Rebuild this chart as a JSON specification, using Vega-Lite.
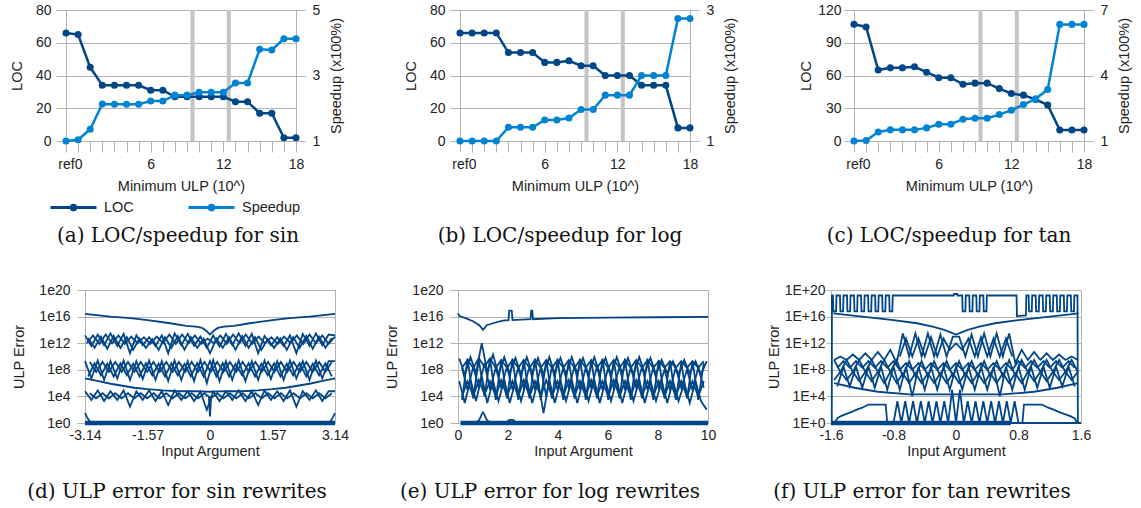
{
"$schema": "https://vega.github.io/schema/vega-lite/v6.json",
"background": "white",
"padding": {"left": 8, "top": 2, "right": 5, "bottom": 5},
"datasets": {
"ta": [{"i":0,"loc":66,"sp":1},{"i":1,"loc":65,"sp":1.04},{"i":2,"loc":45,"sp":1.36},{"i":3,"loc":34,"sp":2.13},{"i":4,"loc":34,"sp":2.12},{"i":5,"loc":34,"sp":2.12},{"i":6,"loc":34,"sp":2.12},{"i":7,"loc":31,"sp":2.22},{"i":8,"loc":31,"sp":2.22},{"i":9,"loc":27,"sp":2.4},{"i":10,"loc":27,"sp":2.4},{"i":11,"loc":27,"sp":2.49},{"i":12,"loc":27,"sp":2.49},{"i":13,"loc":27,"sp":2.49},{"i":14,"loc":24,"sp":2.77},{"i":15,"loc":24,"sp":2.77},{"i":16,"loc":17,"sp":3.8},{"i":17,"loc":17,"sp":3.78},{"i":18,"loc":2,"sp":4.12},{"i":19,"loc":2,"sp":4.12}],
"tb": [{"i":0,"loc":66,"sp":1},{"i":1,"loc":66,"sp":1},{"i":2,"loc":66,"sp":1},{"i":3,"loc":66,"sp":1},{"i":4,"loc":54,"sp":1.21},{"i":5,"loc":54,"sp":1.21},{"i":6,"loc":54,"sp":1.21},{"i":7,"loc":48,"sp":1.32},{"i":8,"loc":48,"sp":1.32},{"i":9,"loc":49,"sp":1.35},{"i":10,"loc":46,"sp":1.48},{"i":11,"loc":46,"sp":1.48},{"i":12,"loc":40,"sp":1.7},{"i":13,"loc":40,"sp":1.7},{"i":14,"loc":40,"sp":1.7},{"i":15,"loc":34,"sp":2},{"i":16,"loc":34,"sp":2},{"i":17,"loc":34,"sp":2},{"i":18,"loc":8,"sp":2.87},{"i":19,"loc":8,"sp":2.87}],
"tc": [{"i":0,"loc":107,"sp":1},{"i":1,"loc":104.5,"sp":1.02},{"i":2,"loc":65,"sp":1.41},{"i":3,"loc":67,"sp":1.51},{"i":4,"loc":67,"sp":1.51},{"i":5,"loc":68,"sp":1.51},{"i":6,"loc":63,"sp":1.6},{"i":7,"loc":58,"sp":1.77},{"i":8,"loc":58,"sp":1.77},{"i":9,"loc":52,"sp":2},{"i":10,"loc":53,"sp":2.04},{"i":11,"loc":53,"sp":2.04},{"i":12,"loc":48,"sp":2.21},{"i":13,"loc":43.5,"sp":2.41},{"i":14,"loc":42,"sp":2.67},{"i":15,"loc":38,"sp":2.93},{"i":16,"loc":33,"sp":3.36},{"i":17,"loc":10,"sp":6.34},{"i":18,"loc":10,"sp":6.34},{"i":19,"loc":10,"sp":6.34}],
"bd": [
{"s":"t","x":-3.14,"y":2.5e16},{"s":"t","x":-2.5,"y":1e16},{"s":"t","x":-2,"y":6e15},{"s":"t","x":-1.57,"y":3e15},{"s":"t","x":-1,"y":1e15},{"s":"t","x":-0.6,"y":4e14},{"s":"t","x":-0.35,"y":3e14},{"s":"t","x":-0.2,"y":2e14},{"s":"t","x":-0.1,"y":8e13},{"s":"t","x":0,"y":2e13},{"s":"t","x":0.1,"y":8e13},{"s":"t","x":0.2,"y":2e14},{"s":"t","x":0.35,"y":3e14},{"s":"t","x":0.6,"y":4e14},{"s":"t","x":1,"y":1e15},{"s":"t","x":1.57,"y":3e15},{"s":"t","x":2,"y":6e15},{"s":"t","x":2.5,"y":1e16},{"s":"t","x":3.14,"y":2.5e16},
{"s":"a","x":-3.14,"y":1.5e13},{"s":"a","x":-2.98,"y":4e11},{"s":"a","x":-2.82,"y":2e13},{"s":"a","x":-2.66,"y":5e11},{"s":"a","x":-2.5,"y":3e13},{"s":"a","x":-2.33,"y":4e11},{"s":"a","x":-2.17,"y":2.5e13},{"s":"a","x":-2.01,"y":3e10},{"s":"a","x":-1.85,"y":1.5e13},{"s":"a","x":-1.69,"y":5e11},{"s":"a","x":-1.53,"y":8e12},{"s":"a","x":-1.37,"y":4e11},{"s":"a","x":-1.21,"y":1.5e13},{"s":"a","x":-1.05,"y":3e10},{"s":"a","x":-0.89,"y":3e13},{"s":"a","x":-0.72,"y":5e11},{"s":"a","x":-0.56,"y":2.5e13},{"s":"a","x":-0.4,"y":4e11},{"s":"a","x":-0.24,"y":1e13},{"s":"a","x":-0.08,"y":2e11},{"s":"a","x":0.08,"y":1.5e13},{"s":"a","x":0.24,"y":3e11},{"s":"a","x":0.4,"y":2.5e13},{"s":"a","x":0.56,"y":5e11},{"s":"a","x":0.72,"y":3e13},{"s":"a","x":0.89,"y":4e11},{"s":"a","x":1.05,"y":2.5e13},{"s":"a","x":1.21,"y":3e10},{"s":"a","x":1.37,"y":1.2e13},{"s":"a","x":1.53,"y":5e11},{"s":"a","x":1.69,"y":8e12},{"s":"a","x":1.85,"y":4e11},{"s":"a","x":2.01,"y":1.5e13},{"s":"a","x":2.17,"y":3e10},{"s":"a","x":2.33,"y":2.5e13},{"s":"a","x":2.5,"y":4e11},{"s":"a","x":2.66,"y":3e13},{"s":"a","x":2.82,"y":5e11},{"s":"a","x":2.98,"y":2e13},{"s":"a","x":3.14,"y":1.5e13},
{"s":"a2","x":-3.1,"y":1e12},{"s":"a2","x":-2.94,"y":1.5e13},{"s":"a2","x":-2.78,"y":8e11},{"s":"a2","x":-2.62,"y":2e13},{"s":"a2","x":-2.46,"y":1e12},{"s":"a2","x":-2.3,"y":1.5e13},{"s":"a2","x":-2.14,"y":8e11},{"s":"a2","x":-1.98,"y":1e13},{"s":"a2","x":-1.82,"y":1e12},{"s":"a2","x":-1.66,"y":8e12},{"s":"a2","x":-1.5,"y":8e11},{"s":"a2","x":-1.34,"y":1e13},{"s":"a2","x":-1.18,"y":1e12},{"s":"a2","x":-1.02,"y":2e13},{"s":"a2","x":-0.86,"y":8e11},{"s":"a2","x":-0.7,"y":2e13},{"s":"a2","x":-0.54,"y":1e12},{"s":"a2","x":-0.38,"y":1.5e13},{"s":"a2","x":-0.22,"y":8e11},{"s":"a2","x":-0.06,"y":5e12},{"s":"a2","x":0.1,"y":1e12},{"s":"a2","x":0.26,"y":1.5e13},{"s":"a2","x":0.42,"y":8e11},{"s":"a2","x":0.58,"y":2e13},{"s":"a2","x":0.74,"y":1e12},{"s":"a2","x":0.9,"y":2e13},{"s":"a2","x":1.06,"y":8e11},{"s":"a2","x":1.22,"y":1e13},{"s":"a2","x":1.38,"y":1e12},{"s":"a2","x":1.54,"y":8e12},{"s":"a2","x":1.7,"y":8e11},{"s":"a2","x":1.86,"y":1e13},{"s":"a2","x":2.02,"y":1e12},{"s":"a2","x":2.18,"y":1.5e13},{"s":"a2","x":2.34,"y":8e11},{"s":"a2","x":2.5,"y":2e13},{"s":"a2","x":2.66,"y":1e12},{"s":"a2","x":2.82,"y":1.5e13},{"s":"a2","x":2.98,"y":8e11},{"s":"a2","x":3.14,"y":1e13},
{"s":"b","x":-3.06,"y":6e12},{"s":"b","x":-2.9,"y":2e11},{"s":"b","x":-2.74,"y":1e13},{"s":"b","x":-2.58,"y":1.5e11},{"s":"b","x":-2.42,"y":1.2e13},{"s":"b","x":-2.25,"y":2e11},{"s":"b","x":-2.09,"y":8e12},{"s":"b","x":-1.93,"y":1e11},{"s":"b","x":-1.77,"y":5e12},{"s":"b","x":-1.61,"y":2e11},{"s":"b","x":-1.45,"y":4e12},{"s":"b","x":-1.29,"y":1e11},{"s":"b","x":-1.13,"y":8e12},{"s":"b","x":-0.97,"y":2e11},{"s":"b","x":-0.81,"y":1.2e13},{"s":"b","x":-0.64,"y":1e11},{"s":"b","x":-0.48,"y":8e12},{"s":"b","x":-0.32,"y":2e11},{"s":"b","x":-0.16,"y":5e12},{"s":"b","x":0,"y":3e10},{"s":"b","x":0.16,"y":5e12},{"s":"b","x":0.32,"y":2e11},{"s":"b","x":0.48,"y":8e12},{"s":"b","x":0.64,"y":1e11},{"s":"b","x":0.81,"y":1.2e13},{"s":"b","x":0.97,"y":2e11},{"s":"b","x":1.13,"y":8e12},{"s":"b","x":1.29,"y":1e11},{"s":"b","x":1.45,"y":4e12},{"s":"b","x":1.61,"y":2e11},{"s":"b","x":1.77,"y":5e12},{"s":"b","x":1.93,"y":1e11},{"s":"b","x":2.09,"y":8e12},{"s":"b","x":2.25,"y":2e11},{"s":"b","x":2.42,"y":1.2e13},{"s":"b","x":2.58,"y":1.5e11},{"s":"b","x":2.74,"y":1e13},{"s":"b","x":2.9,"y":2e11},{"s":"b","x":3.06,"y":6e12},
{"s":"c","x":-3.14,"y":2e9},{"s":"c","x":-2.98,"y":5e6},{"s":"c","x":-2.82,"y":2.5e9},{"s":"c","x":-2.66,"y":3e6},{"s":"c","x":-2.5,"y":2e9},{"s":"c","x":-2.33,"y":5e6},{"s":"c","x":-2.17,"y":2.5e9},{"s":"c","x":-2.01,"y":3e6},{"s":"c","x":-1.85,"y":2e9},{"s":"c","x":-1.69,"y":4e6},{"s":"c","x":-1.53,"y":2.5e9},{"s":"c","x":-1.37,"y":3e6},{"s":"c","x":-1.21,"y":2e9},{"s":"c","x":-1.05,"y":2e6},{"s":"c","x":-0.89,"y":2.5e9},{"s":"c","x":-0.72,"y":3e6},{"s":"c","x":-0.56,"y":2e9},{"s":"c","x":-0.4,"y":2e6},{"s":"c","x":-0.24,"y":3e9},{"s":"c","x":-0.08,"y":1e6},{"s":"c","x":0.08,"y":3e9},{"s":"c","x":0.24,"y":2e6},{"s":"c","x":0.4,"y":2e9},{"s":"c","x":0.56,"y":3e6},{"s":"c","x":0.72,"y":2.5e9},{"s":"c","x":0.89,"y":2e6},{"s":"c","x":1.05,"y":2e9},{"s":"c","x":1.21,"y":3e6},{"s":"c","x":1.37,"y":2.5e9},{"s":"c","x":1.53,"y":4e6},{"s":"c","x":1.69,"y":2e9},{"s":"c","x":1.85,"y":3e6},{"s":"c","x":2.01,"y":2.5e9},{"s":"c","x":2.17,"y":5e6},{"s":"c","x":2.33,"y":2e9},{"s":"c","x":2.5,"y":3e6},{"s":"c","x":2.66,"y":2.5e9},{"s":"c","x":2.82,"y":5e6},{"s":"c","x":2.98,"y":2e9},{"s":"c","x":3.14,"y":2e9},
{"s":"c2","x":-3.02,"y":1.5e9},{"s":"c2","x":-2.86,"y":5e7},{"s":"c2","x":-2.7,"y":1.5e9},{"s":"c2","x":-2.54,"y":5e7},{"s":"c2","x":-2.38,"y":1.5e9},{"s":"c2","x":-2.22,"y":5e7},{"s":"c2","x":-2.06,"y":1.5e9},{"s":"c2","x":-1.9,"y":5e7},{"s":"c2","x":-1.74,"y":1.5e9},{"s":"c2","x":-1.58,"y":5e7},{"s":"c2","x":-1.42,"y":1.5e9},{"s":"c2","x":-1.26,"y":5e7},{"s":"c2","x":-1.1,"y":1.5e9},{"s":"c2","x":-0.94,"y":5e7},{"s":"c2","x":-0.78,"y":1.5e9},{"s":"c2","x":-0.62,"y":5e7},{"s":"c2","x":-0.46,"y":1.5e9},{"s":"c2","x":-0.3,"y":5e7},{"s":"c2","x":-0.14,"y":1.5e9},{"s":"c2","x":0.02,"y":5e7},{"s":"c2","x":0.18,"y":1.5e9},{"s":"c2","x":0.34,"y":5e7},{"s":"c2","x":0.5,"y":1.5e9},{"s":"c2","x":0.66,"y":5e7},{"s":"c2","x":0.82,"y":1.5e9},{"s":"c2","x":0.98,"y":5e7},{"s":"c2","x":1.14,"y":1.5e9},{"s":"c2","x":1.3,"y":5e7},{"s":"c2","x":1.46,"y":1.5e9},{"s":"c2","x":1.62,"y":5e7},{"s":"c2","x":1.78,"y":1.5e9},{"s":"c2","x":1.94,"y":5e7},{"s":"c2","x":2.1,"y":1.5e9},{"s":"c2","x":2.26,"y":5e7},{"s":"c2","x":2.42,"y":1.5e9},{"s":"c2","x":2.58,"y":5e7},{"s":"c2","x":2.74,"y":1.5e9},{"s":"c2","x":2.9,"y":5e7},{"s":"c2","x":3.06,"y":1.5e9},
{"s":"d","x":-3.06,"y":1e7},{"s":"d","x":-2.9,"y":1e9},{"s":"d","x":-2.74,"y":1.5e7},{"s":"d","x":-2.58,"y":8e8},{"s":"d","x":-2.42,"y":1e7},{"s":"d","x":-2.25,"y":1e9},{"s":"d","x":-2.09,"y":1.5e7},{"s":"d","x":-1.93,"y":8e8},{"s":"d","x":-1.77,"y":1e7},{"s":"d","x":-1.61,"y":1e9},{"s":"d","x":-1.45,"y":1.5e7},{"s":"d","x":-1.29,"y":8e8},{"s":"d","x":-1.13,"y":1e7},{"s":"d","x":-0.97,"y":1e9},{"s":"d","x":-0.81,"y":1.5e7},{"s":"d","x":-0.64,"y":8e8},{"s":"d","x":-0.48,"y":1e7},{"s":"d","x":-0.32,"y":1e9},{"s":"d","x":-0.16,"y":1e7},{"s":"d","x":0,"y":2e9},{"s":"d","x":0.16,"y":1e7},{"s":"d","x":0.32,"y":1e9},{"s":"d","x":0.48,"y":1e7},{"s":"d","x":0.64,"y":8e8},{"s":"d","x":0.81,"y":1.5e7},{"s":"d","x":0.97,"y":1e9},{"s":"d","x":1.13,"y":1e7},{"s":"d","x":1.29,"y":8e8},{"s":"d","x":1.45,"y":1.5e7},{"s":"d","x":1.61,"y":1e9},{"s":"d","x":1.77,"y":1e7},{"s":"d","x":1.93,"y":8e8},{"s":"d","x":2.09,"y":1.5e7},{"s":"d","x":2.25,"y":1e9},{"s":"d","x":2.42,"y":1e7},{"s":"d","x":2.58,"y":8e8},{"s":"d","x":2.74,"y":1.5e7},{"s":"d","x":2.9,"y":1e9},{"s":"d","x":3.06,"y":1e7},
{"s":"e","x":-3.14,"y":5e6},{"s":"e","x":-2.8,"y":2e6},{"s":"e","x":-2.5,"y":8e5},{"s":"e","x":-2.2,"y":4e5},{"s":"e","x":-1.9,"y":2e5},{"s":"e","x":-1.57,"y":1.2e5},{"s":"e","x":-1.2,"y":8e4},{"s":"e","x":-0.8,"y":6e4},{"s":"e","x":-0.4,"y":6e4},{"s":"e","x":0,"y":5e4},{"s":"e","x":0.4,"y":6e4},{"s":"e","x":0.8,"y":6e4},{"s":"e","x":1.2,"y":8e4},{"s":"e","x":1.57,"y":1.2e5},{"s":"e","x":1.9,"y":2e5},{"s":"e","x":2.2,"y":4e5},{"s":"e","x":2.5,"y":8e5},{"s":"e","x":2.8,"y":2e6},{"s":"e","x":3.14,"y":5e6},
{"s":"f","x":-3.14,"y":6e4},{"s":"f","x":-2.98,"y":3e3},{"s":"f","x":-2.82,"y":8e4},{"s":"f","x":-2.66,"y":2e3},{"s":"f","x":-2.5,"y":6e4},{"s":"f","x":-2.33,"y":3e3},{"s":"f","x":-2.17,"y":8e4},{"s":"f","x":-2.01,"y":3e2},{"s":"f","x":-1.85,"y":6e4},{"s":"f","x":-1.69,"y":3e3},{"s":"f","x":-1.53,"y":8e4},{"s":"f","x":-1.37,"y":2e3},{"s":"f","x":-1.21,"y":6e4},{"s":"f","x":-1.05,"y":5e2},{"s":"f","x":-0.89,"y":8e4},{"s":"f","x":-0.72,"y":3e3},{"s":"f","x":-0.56,"y":6e4},{"s":"f","x":-0.4,"y":2e3},{"s":"f","x":-0.24,"y":5e4},{"s":"f","x":-0.08,"y":1e2},{"s":"f","x":0.08,"y":5e4},{"s":"f","x":0.24,"y":2e3},{"s":"f","x":0.4,"y":6e4},{"s":"f","x":0.56,"y":3e3},{"s":"f","x":0.72,"y":8e4},{"s":"f","x":0.89,"y":2e3},{"s":"f","x":1.05,"y":6e4},{"s":"f","x":1.21,"y":5e2},{"s":"f","x":1.37,"y":8e4},{"s":"f","x":1.53,"y":3e3},{"s":"f","x":1.69,"y":6e4},{"s":"f","x":1.85,"y":2e3},{"s":"f","x":2.01,"y":8e4},{"s":"f","x":2.17,"y":3e2},{"s":"f","x":2.33,"y":6e4},{"s":"f","x":2.5,"y":3e3},{"s":"f","x":2.66,"y":8e4},{"s":"f","x":2.82,"y":2e3},{"s":"f","x":2.98,"y":6e4},{"s":"f","x":3.14,"y":6e4},
{"s":"f2","x":-3.02,"y":3e4},{"s":"f2","x":-2.86,"y":5e3},{"s":"f2","x":-2.7,"y":3e4},{"s":"f2","x":-2.54,"y":5e3},{"s":"f2","x":-2.38,"y":3e4},{"s":"f2","x":-2.22,"y":5e3},{"s":"f2","x":-2.06,"y":3e4},{"s":"f2","x":-1.9,"y":5e3},{"s":"f2","x":-1.74,"y":3e4},{"s":"f2","x":-1.58,"y":5e3},{"s":"f2","x":-1.42,"y":3e4},{"s":"f2","x":-1.26,"y":5e3},{"s":"f2","x":-1.1,"y":3e4},{"s":"f2","x":-0.94,"y":5e3},{"s":"f2","x":-0.78,"y":3e4},{"s":"f2","x":-0.62,"y":5e3},{"s":"f2","x":-0.46,"y":3e4},{"s":"f2","x":-0.3,"y":5e3},{"s":"f2","x":-0.14,"y":3e4},{"s":"f2","x":0.02,"y":5e3},{"s":"f2","x":0.18,"y":3e4},{"s":"f2","x":0.34,"y":5e3},{"s":"f2","x":0.5,"y":3e4},{"s":"f2","x":0.66,"y":5e3},{"s":"f2","x":0.82,"y":3e4},{"s":"f2","x":0.98,"y":5e3},{"s":"f2","x":1.14,"y":3e4},{"s":"f2","x":1.3,"y":5e3},{"s":"f2","x":1.46,"y":3e4},{"s":"f2","x":1.62,"y":5e3},{"s":"f2","x":1.78,"y":3e4},{"s":"f2","x":1.94,"y":5e3},{"s":"f2","x":2.1,"y":3e4},{"s":"f2","x":2.26,"y":5e3},{"s":"f2","x":2.42,"y":3e4},{"s":"f2","x":2.58,"y":5e3},{"s":"f2","x":2.74,"y":3e4},{"s":"f2","x":2.9,"y":5e3},{"s":"f2","x":3.06,"y":3e4},
{"s":"g","x":-0.03,"y":1e4},{"s":"g","x":0,"y":10},{"s":"g","x":0.03,"y":1e4},
{"s":"i","x":-3.14,"y":30},{"s":"i","x":-3.1,"y":10},{"s":"i","x":-3.05,"y":3},{"s":"i","x":-3,"y":1.3},{"s":"i","x":-2.9,"y":1},
{"s":"j","x":2.9,"y":1},{"s":"j","x":3,"y":1.3},{"s":"j","x":3.05,"y":3},{"s":"j","x":3.1,"y":10},{"s":"j","x":3.14,"y":30}
],
"bdb": [{"s":"h","x":-3.14,"y":1},{"s":"h","x":3.14,"y":1}],
"be": [
{"s":"t","x":0,"y":3e16},{"s":"t","x":0.05,"y":1.2e16},{"s":"t","x":0.3,"y":6e15},{"s":"t","x":0.6,"y":2e15},{"s":"t","x":0.85,"y":5e14},{"s":"t","x":1,"y":1e14},{"s":"t","x":1.15,"y":5e14},{"s":"t","x":1.5,"y":1.3e15},{"s":"t","x":1.8,"y":2.5e15},{"s":"t","x":2.02,"y":3e15},{"s":"t","x":2.05,"y":8e16},{"s":"t","x":2.15,"y":8e16},{"s":"t","x":2.18,"y":3e15},{"s":"t","x":2.9,"y":4e15},{"s":"t","x":2.93,"y":8e16},{"s":"t","x":2.97,"y":8e16},{"s":"t","x":3,"y":4e15},{"s":"t","x":4,"y":6e15},{"s":"t","x":6,"y":7e15},{"s":"t","x":8,"y":8e15},{"s":"t","x":10,"y":9e15},
{"s":"a","x":0.05,"y":5e9},{"s":"a","x":0.27,"y":2e7},{"s":"a","x":0.5,"y":8e9},{"s":"a","x":0.72,"y":3e7},{"s":"a","x":0.95,"y":1e12},{"s":"a","x":1.17,"y":5e7},{"s":"a","x":1.4,"y":2e10},{"s":"a","x":1.62,"y":2e7},{"s":"a","x":1.85,"y":8e9},{"s":"a","x":2.07,"y":3e7},{"s":"a","x":2.3,"y":6e9},{"s":"a","x":2.52,"y":2e7},{"s":"a","x":2.75,"y":8e9},{"s":"a","x":2.97,"y":3e7},{"s":"a","x":3.2,"y":6e9},{"s":"a","x":3.42,"y":2e7},{"s":"a","x":3.65,"y":8e9},{"s":"a","x":3.87,"y":3e7},{"s":"a","x":4.1,"y":6e9},{"s":"a","x":4.32,"y":2e7},{"s":"a","x":4.55,"y":8e9},{"s":"a","x":4.77,"y":3e7},{"s":"a","x":5,"y":6e9},{"s":"a","x":5.22,"y":2e7},{"s":"a","x":5.45,"y":8e9},{"s":"a","x":5.67,"y":3e7},{"s":"a","x":5.9,"y":6e9},{"s":"a","x":6.12,"y":2e7},{"s":"a","x":6.35,"y":8e9},{"s":"a","x":6.57,"y":3e7},{"s":"a","x":6.8,"y":6e9},{"s":"a","x":7.02,"y":2e7},{"s":"a","x":7.25,"y":8e9},{"s":"a","x":7.47,"y":3e7},{"s":"a","x":7.7,"y":6e9},{"s":"a","x":7.92,"y":2e7},{"s":"a","x":8.15,"y":3e9},{"s":"a","x":8.37,"y":3e7},{"s":"a","x":8.6,"y":2e9},{"s":"a","x":8.82,"y":2e7},{"s":"a","x":9.05,"y":3e9},{"s":"a","x":9.27,"y":3e7},{"s":"a","x":9.5,"y":2e9},{"s":"a","x":9.72,"y":2e7},{"s":"a","x":9.95,"y":2e9},
{"s":"a2","x":0.16,"y":2e8},{"s":"a2","x":0.38,"y":3e9},{"s":"a2","x":0.61,"y":2e8},{"s":"a2","x":0.83,"y":5e9},{"s":"a2","x":1.06,"y":3e8},{"s":"a2","x":1.28,"y":5e9},{"s":"a2","x":1.51,"y":2e8},{"s":"a2","x":1.73,"y":3e9},{"s":"a2","x":1.96,"y":2e8},{"s":"a2","x":2.18,"y":3e9},{"s":"a2","x":2.41,"y":2e8},{"s":"a2","x":2.63,"y":3e9},{"s":"a2","x":2.86,"y":2e8},{"s":"a2","x":3.08,"y":3e9},{"s":"a2","x":3.31,"y":2e8},{"s":"a2","x":3.53,"y":3e9},{"s":"a2","x":3.76,"y":2e8},{"s":"a2","x":3.98,"y":3e9},{"s":"a2","x":4.21,"y":2e8},{"s":"a2","x":4.43,"y":3e9},{"s":"a2","x":4.66,"y":2e8},{"s":"a2","x":4.88,"y":3e9},{"s":"a2","x":5.11,"y":2e8},{"s":"a2","x":5.33,"y":3e9},{"s":"a2","x":5.56,"y":2e8},{"s":"a2","x":5.78,"y":3e9},{"s":"a2","x":6.01,"y":2e8},{"s":"a2","x":6.23,"y":3e9},{"s":"a2","x":6.46,"y":2e8},{"s":"a2","x":6.68,"y":3e9},{"s":"a2","x":6.91,"y":2e8},{"s":"a2","x":7.13,"y":3e9},{"s":"a2","x":7.36,"y":2e8},{"s":"a2","x":7.58,"y":3e9},{"s":"a2","x":7.81,"y":2e8},{"s":"a2","x":8.03,"y":2e9},{"s":"a2","x":8.26,"y":2e8},{"s":"a2","x":8.48,"y":2e9},{"s":"a2","x":8.71,"y":2e8},{"s":"a2","x":8.93,"y":2e9},{"s":"a2","x":9.16,"y":2e8},{"s":"a2","x":9.38,"y":2e9},{"s":"a2","x":9.61,"y":2e8},{"s":"a2","x":9.83,"y":2e9},
{"s":"b","x":0.16,"y":2e8},{"s":"b","x":0.38,"y":1e5},{"s":"b","x":0.61,"y":3e8},{"s":"b","x":0.83,"y":2e5},{"s":"b","x":1.06,"y":1e9},{"s":"b","x":1.28,"y":1e5},{"s":"b","x":1.51,"y":2e8},{"s":"b","x":1.73,"y":2e5},{"s":"b","x":1.96,"y":3e8},{"s":"b","x":2.18,"y":1e5},{"s":"b","x":2.41,"y":2e8},{"s":"b","x":2.63,"y":2e5},{"s":"b","x":2.86,"y":3e8},{"s":"b","x":3.08,"y":1e5},{"s":"b","x":3.31,"y":2e8},{"s":"b","x":3.53,"y":1e4},{"s":"b","x":3.76,"y":3e8},{"s":"b","x":3.98,"y":1e5},{"s":"b","x":4.21,"y":2e8},{"s":"b","x":4.43,"y":2e5},{"s":"b","x":4.66,"y":3e8},{"s":"b","x":4.88,"y":1e5},{"s":"b","x":5.11,"y":2e8},{"s":"b","x":5.33,"y":2e5},{"s":"b","x":5.56,"y":3e8},{"s":"b","x":5.78,"y":1e5},{"s":"b","x":6.01,"y":2e8},{"s":"b","x":6.23,"y":2e5},{"s":"b","x":6.46,"y":3e8},{"s":"b","x":6.68,"y":1e5},{"s":"b","x":6.91,"y":2e8},{"s":"b","x":7.13,"y":2e5},{"s":"b","x":7.36,"y":3e8},{"s":"b","x":7.58,"y":1e5},{"s":"b","x":7.81,"y":2e8},{"s":"b","x":8.03,"y":2e5},{"s":"b","x":8.26,"y":1e8},{"s":"b","x":8.48,"y":1e5},{"s":"b","x":8.71,"y":2e8},{"s":"b","x":8.93,"y":2e5},{"s":"b","x":9.16,"y":1e8},{"s":"b","x":9.38,"y":1e5},{"s":"b","x":9.61,"y":2e8},{"s":"b","x":9.83,"y":2e5},
{"s":"c","x":0.05,"y":2e6},{"s":"c","x":0.27,"y":1e3},{"s":"c","x":0.5,"y":3e6},{"s":"c","x":0.72,"y":2e3},{"s":"c","x":0.95,"y":1e7},{"s":"c","x":1.17,"y":1e3},{"s":"c","x":1.4,"y":2e6},{"s":"c","x":1.62,"y":2e3},{"s":"c","x":1.85,"y":3e6},{"s":"c","x":2.07,"y":1e3},{"s":"c","x":2.3,"y":2e6},{"s":"c","x":2.52,"y":2e3},{"s":"c","x":2.75,"y":3e6},{"s":"c","x":2.97,"y":1e3},{"s":"c","x":3.2,"y":2e6},{"s":"c","x":3.42,"y":30},{"s":"c","x":3.65,"y":3e6},{"s":"c","x":3.87,"y":1e3},{"s":"c","x":4.1,"y":2e6},{"s":"c","x":4.32,"y":2e3},{"s":"c","x":4.55,"y":3e6},{"s":"c","x":4.77,"y":1e3},{"s":"c","x":5,"y":2e6},{"s":"c","x":5.22,"y":2e3},{"s":"c","x":5.45,"y":3e6},{"s":"c","x":5.67,"y":1e3},{"s":"c","x":5.9,"y":2e6},{"s":"c","x":6.12,"y":2e3},{"s":"c","x":6.35,"y":3e6},{"s":"c","x":6.57,"y":1e3},{"s":"c","x":6.8,"y":2e6},{"s":"c","x":7.02,"y":2e3},{"s":"c","x":7.25,"y":3e6},{"s":"c","x":7.47,"y":1e3},{"s":"c","x":7.7,"y":2e6},{"s":"c","x":7.92,"y":2e3},{"s":"c","x":8.15,"y":2e6},{"s":"c","x":8.37,"y":1e3},{"s":"c","x":8.6,"y":2e6},{"s":"c","x":8.82,"y":2e3},{"s":"c","x":9.05,"y":1e6},{"s":"c","x":9.27,"y":1e3},{"s":"c","x":9.5,"y":2e6},{"s":"c","x":9.72,"y":2e3},{"s":"c","x":9.95,"y":100},
{"s":"c2","x":0.16,"y":1e4},{"s":"c2","x":0.38,"y":2e6},{"s":"c2","x":0.61,"y":1e4},{"s":"c2","x":0.83,"y":3e6},{"s":"c2","x":1.06,"y":2e4},{"s":"c2","x":1.28,"y":2e6},{"s":"c2","x":1.51,"y":1e4},{"s":"c2","x":1.73,"y":3e6},{"s":"c2","x":1.96,"y":1e4},{"s":"c2","x":2.18,"y":2e6},{"s":"c2","x":2.41,"y":1e4},{"s":"c2","x":2.63,"y":3e6},{"s":"c2","x":2.86,"y":1e4},{"s":"c2","x":3.08,"y":2e6},{"s":"c2","x":3.31,"y":1e4},{"s":"c2","x":3.53,"y":3e6},{"s":"c2","x":3.76,"y":1e4},{"s":"c2","x":3.98,"y":2e6},{"s":"c2","x":4.21,"y":1e4},{"s":"c2","x":4.43,"y":3e6},{"s":"c2","x":4.66,"y":1e4},{"s":"c2","x":4.88,"y":2e6},{"s":"c2","x":5.11,"y":1e4},{"s":"c2","x":5.33,"y":3e6},{"s":"c2","x":5.56,"y":1e4},{"s":"c2","x":5.78,"y":2e6},{"s":"c2","x":6.01,"y":1e4},{"s":"c2","x":6.23,"y":3e6},{"s":"c2","x":6.46,"y":1e4},{"s":"c2","x":6.68,"y":2e6},{"s":"c2","x":6.91,"y":1e4},{"s":"c2","x":7.13,"y":3e6},{"s":"c2","x":7.36,"y":1e4},{"s":"c2","x":7.58,"y":2e6},{"s":"c2","x":7.81,"y":1e4},{"s":"c2","x":8.03,"y":2e6},{"s":"c2","x":8.26,"y":1e4},{"s":"c2","x":8.48,"y":2e6},{"s":"c2","x":8.71,"y":1e4},{"s":"c2","x":8.93,"y":2e6},{"s":"c2","x":9.16,"y":1e4},{"s":"c2","x":9.38,"y":2e6},{"s":"c2","x":9.61,"y":1e4},{"s":"c2","x":9.83,"y":2e6},
{"s":"d","x":0.16,"y":3e3},{"s":"d","x":0.38,"y":5e9},{"s":"d","x":0.61,"y":5e3},{"s":"d","x":0.83,"y":3e9},{"s":"d","x":1.06,"y":1e4},{"s":"d","x":1.28,"y":5e9},{"s":"d","x":1.51,"y":3e3},{"s":"d","x":1.73,"y":3e9},{"s":"d","x":1.96,"y":5e3},{"s":"d","x":2.18,"y":5e9},{"s":"d","x":2.41,"y":3e3},{"s":"d","x":2.63,"y":3e9},{"s":"d","x":2.86,"y":5e3},{"s":"d","x":3.08,"y":5e9},{"s":"d","x":3.31,"y":3e3},{"s":"d","x":3.53,"y":3e9},{"s":"d","x":3.76,"y":5e3},{"s":"d","x":3.98,"y":5e9},{"s":"d","x":4.21,"y":3e3},{"s":"d","x":4.43,"y":3e9},{"s":"d","x":4.66,"y":5e3},{"s":"d","x":4.88,"y":5e9},{"s":"d","x":5.11,"y":3e3},{"s":"d","x":5.33,"y":3e9},{"s":"d","x":5.56,"y":5e3},{"s":"d","x":5.78,"y":5e9},{"s":"d","x":6.01,"y":3e3},{"s":"d","x":6.23,"y":3e9},{"s":"d","x":6.46,"y":5e3},{"s":"d","x":6.68,"y":5e9},{"s":"d","x":6.91,"y":3e3},{"s":"d","x":7.13,"y":3e9},{"s":"d","x":7.36,"y":5e3},{"s":"d","x":7.58,"y":5e9},{"s":"d","x":7.81,"y":3e3},{"s":"d","x":8.03,"y":3e9},{"s":"d","x":8.26,"y":5e3},{"s":"d","x":8.48,"y":2e9},{"s":"d","x":8.71,"y":3e3},{"s":"d","x":8.93,"y":1e9},{"s":"d","x":9.16,"y":5e3},{"s":"d","x":9.38,"y":2e9},{"s":"d","x":9.61,"y":3e3},{"s":"d","x":9.83,"y":1e9},
{"s":"g","x":0.7,"y":1},{"s":"g","x":0.85,"y":3},{"s":"g","x":0.95,"y":20},{"s":"g","x":1,"y":40},{"s":"g","x":1.05,"y":20},{"s":"g","x":1.15,"y":3},{"s":"g","x":1.3,"y":1},
{"s":"k","x":1.9,"y":1},{"s":"k","x":2.05,"y":3},{"s":"k","x":2.2,"y":3},{"s":"k","x":2.35,"y":1}
],
"beb": [{"s":"h","x":0.1,"y":1},{"s":"h","x":10,"y":1}],
"bf": [
{"s":"t","x":-1.59,"y":1},{"s":"t","x":-1.588,"y":1.5e19},
{"s":"t","x":-1.575,"y":1.5e19},{"s":"t","x":-1.57,"y":6e16},{"s":"t","x":-1.535,"y":6e16},{"s":"t","x":-1.53,"y":1.5e19},
{"s":"t","x":-1.485,"y":1.5e19},{"s":"t","x":-1.48,"y":6e16},{"s":"t","x":-1.445,"y":6e16},{"s":"t","x":-1.44,"y":1.5e19},
{"s":"t","x":-1.395,"y":1.5e19},{"s":"t","x":-1.39,"y":6e16},{"s":"t","x":-1.355,"y":6e16},{"s":"t","x":-1.35,"y":1.5e19},
{"s":"t","x":-1.305,"y":1.5e19},{"s":"t","x":-1.3,"y":6e16},{"s":"t","x":-1.265,"y":6e16},{"s":"t","x":-1.26,"y":1.5e19},
{"s":"t","x":-1.215,"y":1.5e19},{"s":"t","x":-1.21,"y":6e16},{"s":"t","x":-1.175,"y":6e16},{"s":"t","x":-1.17,"y":1.5e19},
{"s":"t","x":-1.125,"y":1.5e19},{"s":"t","x":-1.12,"y":6e16},{"s":"t","x":-1.085,"y":6e16},{"s":"t","x":-1.08,"y":1.5e19},
{"s":"t","x":-1.035,"y":1.5e19},{"s":"t","x":-1.03,"y":6e16},{"s":"t","x":-0.995,"y":6e16},{"s":"t","x":-0.99,"y":1.5e19},
{"s":"t","x":-0.945,"y":1.5e19},{"s":"t","x":-0.94,"y":6e16},{"s":"t","x":-0.905,"y":6e16},{"s":"t","x":-0.9,"y":1.5e19},
{"s":"t","x":-0.855,"y":1.5e19},{"s":"t","x":-0.85,"y":6e16},{"s":"t","x":-0.815,"y":6e16},{"s":"t","x":-0.81,"y":1.5e19},
{"s":"t","x":-0.03,"y":1.5e19},{"s":"t","x":-0.025,"y":2.5e19},{"s":"t","x":0.015,"y":2.5e19},{"s":"t","x":0.02,"y":1.5e19},
{"s":"t","x":0.08,"y":1.5e19},{"s":"t","x":0.085,"y":6e16},{"s":"t","x":0.12,"y":6e16},{"s":"t","x":0.125,"y":1.5e19},
{"s":"t","x":0.17,"y":1.5e19},{"s":"t","x":0.175,"y":6e16},{"s":"t","x":0.21,"y":6e16},{"s":"t","x":0.215,"y":1.5e19},
{"s":"t","x":0.26,"y":1.5e19},{"s":"t","x":0.265,"y":6e16},{"s":"t","x":0.3,"y":6e16},{"s":"t","x":0.305,"y":1.5e19},
{"s":"t","x":0.35,"y":1.5e19},{"s":"t","x":0.355,"y":6e16},{"s":"t","x":0.39,"y":6e16},{"s":"t","x":0.395,"y":1.5e19},
{"s":"t","x":0.775,"y":1.5e19},{"s":"t","x":0.78,"y":1.2e16},{"s":"t","x":0.895,"y":1.5e16},{"s":"t","x":0.9,"y":1.5e19},
{"s":"t","x":0.93,"y":1.5e19},{"s":"t","x":0.935,"y":6e16},{"s":"t","x":0.97,"y":6e16},{"s":"t","x":0.975,"y":1.5e19},
{"s":"t","x":1.02,"y":1.5e19},{"s":"t","x":1.025,"y":6e16},{"s":"t","x":1.06,"y":6e16},{"s":"t","x":1.065,"y":1.5e19},
{"s":"t","x":1.11,"y":1.5e19},{"s":"t","x":1.115,"y":6e16},{"s":"t","x":1.15,"y":6e16},{"s":"t","x":1.155,"y":1.5e19},
{"s":"t","x":1.2,"y":1.5e19},{"s":"t","x":1.205,"y":6e16},{"s":"t","x":1.24,"y":6e16},{"s":"t","x":1.245,"y":1.5e19},
{"s":"t","x":1.29,"y":1.5e19},{"s":"t","x":1.295,"y":6e16},{"s":"t","x":1.33,"y":6e16},{"s":"t","x":1.335,"y":1.5e19},
{"s":"t","x":1.38,"y":1.5e19},{"s":"t","x":1.385,"y":6e16},{"s":"t","x":1.42,"y":6e16},{"s":"t","x":1.425,"y":1.5e19},
{"s":"t","x":1.47,"y":1.5e19},{"s":"t","x":1.475,"y":6e16},{"s":"t","x":1.51,"y":6e16},{"s":"t","x":1.515,"y":1.5e19},
{"s":"t","x":1.555,"y":1.5e19},{"s":"t","x":1.56,"y":1},
{"s":"u","x":-1.57,"y":3e16},{"s":"u","x":-1.2,"y":1e16},{"s":"u","x":-0.8,"y":3e15},{"s":"u","x":-0.5,"y":1e15},{"s":"u","x":-0.3,"y":3e14},{"s":"u","x":-0.15,"y":1e14},{"s":"u","x":0,"y":2e13},{"s":"u","x":0.15,"y":1e14},{"s":"u","x":0.3,"y":3e14},{"s":"u","x":0.5,"y":1e15},{"s":"u","x":0.8,"y":3e15},{"s":"u","x":1.2,"y":1e16},{"s":"u","x":1.57,"y":3e16},
{"s":"a","x":-1.56,"y":3e9},{"s":"a","x":-1.48,"y":5e7},{"s":"a","x":-1.4,"y":3e9},{"s":"a","x":-1.32,"y":5e7},{"s":"a","x":-1.24,"y":3e9},{"s":"a","x":-1.16,"y":5e7},{"s":"a","x":-1.08,"y":3e9},{"s":"a","x":-1,"y":5e7},{"s":"a","x":-0.92,"y":3e9},{"s":"a","x":-0.84,"y":5e7},{"s":"a","x":-0.76,"y":3e9},{"s":"a","x":-0.68,"y":1e7},{"s":"a","x":-0.6,"y":2e9},{"s":"a","x":-0.52,"y":1e7},{"s":"a","x":-0.44,"y":2e9},{"s":"a","x":-0.36,"y":1e7},{"s":"a","x":-0.28,"y":2e9},{"s":"a","x":-0.2,"y":1e7},{"s":"a","x":-0.12,"y":2e9},{"s":"a","x":-0.04,"y":1e7},{"s":"a","x":0.04,"y":2e9},{"s":"a","x":0.12,"y":1e7},{"s":"a","x":0.2,"y":2e9},{"s":"a","x":0.28,"y":1e7},{"s":"a","x":0.36,"y":2e9},{"s":"a","x":0.44,"y":1e7},{"s":"a","x":0.52,"y":2e9},{"s":"a","x":0.6,"y":1e7},{"s":"a","x":0.68,"y":3e9},{"s":"a","x":0.76,"y":1e7},{"s":"a","x":0.84,"y":3e9},{"s":"a","x":0.92,"y":5e7},{"s":"a","x":1,"y":3e9},{"s":"a","x":1.08,"y":5e7},{"s":"a","x":1.16,"y":3e9},{"s":"a","x":1.24,"y":5e7},{"s":"a","x":1.32,"y":3e9},{"s":"a","x":1.4,"y":5e7},{"s":"a","x":1.48,"y":3e9},{"s":"a","x":1.56,"y":5e7},
{"s":"a2","x":-1.52,"y":2e8},{"s":"a2","x":-1.44,"y":2e9},{"s":"a2","x":-1.36,"y":2e8},{"s":"a2","x":-1.28,"y":2e9},{"s":"a2","x":-1.2,"y":2e8},{"s":"a2","x":-1.12,"y":2e9},{"s":"a2","x":-1.04,"y":2e8},{"s":"a2","x":-0.96,"y":2e9},{"s":"a2","x":-0.88,"y":2e8},{"s":"a2","x":-0.8,"y":2e9},{"s":"a2","x":-0.72,"y":1e8},{"s":"a2","x":-0.64,"y":1e9},{"s":"a2","x":-0.56,"y":1e8},{"s":"a2","x":-0.48,"y":1e9},{"s":"a2","x":-0.4,"y":1e8},{"s":"a2","x":-0.32,"y":1e9},{"s":"a2","x":-0.24,"y":1e8},{"s":"a2","x":-0.16,"y":1e9},{"s":"a2","x":-0.08,"y":1e8},{"s":"a2","x":0,"y":1e9},{"s":"a2","x":0.08,"y":1e8},{"s":"a2","x":0.16,"y":1e9},{"s":"a2","x":0.24,"y":1e8},{"s":"a2","x":0.32,"y":1e9},{"s":"a2","x":0.4,"y":1e8},{"s":"a2","x":0.48,"y":1e9},{"s":"a2","x":0.56,"y":1e8},{"s":"a2","x":0.64,"y":1e9},{"s":"a2","x":0.72,"y":1e8},{"s":"a2","x":0.8,"y":2e9},{"s":"a2","x":0.88,"y":2e8},{"s":"a2","x":0.96,"y":2e9},{"s":"a2","x":1.04,"y":2e8},{"s":"a2","x":1.12,"y":2e9},{"s":"a2","x":1.2,"y":2e8},{"s":"a2","x":1.28,"y":2e9},{"s":"a2","x":1.36,"y":2e8},{"s":"a2","x":1.44,"y":2e9},{"s":"a2","x":1.52,"y":2e8},
{"s":"b","x":-1.52,"y":3e5},{"s":"b","x":-1.44,"y":3e8},{"s":"b","x":-1.36,"y":3e5},{"s":"b","x":-1.28,"y":3e8},{"s":"b","x":-1.2,"y":2e5},{"s":"b","x":-1.12,"y":3e8},{"s":"b","x":-1.04,"y":2e5},{"s":"b","x":-0.96,"y":3e8},{"s":"b","x":-0.88,"y":1e5},{"s":"b","x":-0.8,"y":3e8},{"s":"b","x":-0.72,"y":1e5},{"s":"b","x":-0.64,"y":3e8},{"s":"b","x":-0.56,"y":1e4},{"s":"b","x":-0.48,"y":3e8},{"s":"b","x":-0.4,"y":1e5},{"s":"b","x":-0.32,"y":3e8},{"s":"b","x":-0.24,"y":1e5},{"s":"b","x":-0.16,"y":3e8},{"s":"b","x":-0.08,"y":1e5},{"s":"b","x":0,"y":3e8},{"s":"b","x":0.08,"y":1e5},{"s":"b","x":0.16,"y":3e8},{"s":"b","x":0.24,"y":1e5},{"s":"b","x":0.32,"y":3e8},{"s":"b","x":0.4,"y":1e5},{"s":"b","x":0.48,"y":3e8},{"s":"b","x":0.56,"y":1e4},{"s":"b","x":0.64,"y":3e8},{"s":"b","x":0.72,"y":1e5},{"s":"b","x":0.8,"y":3e8},{"s":"b","x":0.88,"y":1e5},{"s":"b","x":0.96,"y":3e8},{"s":"b","x":1.04,"y":2e5},{"s":"b","x":1.12,"y":3e8},{"s":"b","x":1.2,"y":2e5},{"s":"b","x":1.28,"y":3e8},{"s":"b","x":1.36,"y":3e5},{"s":"b","x":1.44,"y":3e8},{"s":"b","x":1.52,"y":3e5},
{"s":"b2","x":-1.56,"y":3e6},{"s":"b2","x":-1.48,"y":5e7},{"s":"b2","x":-1.4,"y":3e6},{"s":"b2","x":-1.32,"y":5e7},{"s":"b2","x":-1.24,"y":2e6},{"s":"b2","x":-1.16,"y":5e7},{"s":"b2","x":-1.08,"y":2e6},{"s":"b2","x":-1,"y":5e7},{"s":"b2","x":-0.92,"y":1e6},{"s":"b2","x":-0.84,"y":5e7},{"s":"b2","x":-0.76,"y":1e6},{"s":"b2","x":-0.68,"y":3e7},{"s":"b2","x":-0.6,"y":1e6},{"s":"b2","x":-0.52,"y":3e7},{"s":"b2","x":-0.44,"y":1e6},{"s":"b2","x":-0.36,"y":3e7},{"s":"b2","x":-0.28,"y":1e6},{"s":"b2","x":-0.2,"y":3e7},{"s":"b2","x":-0.12,"y":1e6},{"s":"b2","x":-0.04,"y":3e7},{"s":"b2","x":0.04,"y":1e6},{"s":"b2","x":0.12,"y":3e7},{"s":"b2","x":0.2,"y":1e6},{"s":"b2","x":0.28,"y":3e7},{"s":"b2","x":0.36,"y":1e6},{"s":"b2","x":0.44,"y":3e7},{"s":"b2","x":0.52,"y":1e6},{"s":"b2","x":0.6,"y":3e7},{"s":"b2","x":0.68,"y":1e6},{"s":"b2","x":0.76,"y":3e7},{"s":"b2","x":0.84,"y":1e6},{"s":"b2","x":0.92,"y":5e7},{"s":"b2","x":1,"y":2e6},{"s":"b2","x":1.08,"y":5e7},{"s":"b2","x":1.16,"y":2e6},{"s":"b2","x":1.24,"y":5e7},{"s":"b2","x":1.32,"y":3e6},{"s":"b2","x":1.4,"y":5e7},{"s":"b2","x":1.48,"y":3e6},{"s":"b2","x":1.56,"y":5e7},
{"s":"c","x":-1.56,"y":1e6},{"s":"c","x":-1.3,"y":2e5},{"s":"c","x":-1,"y":5e4},{"s":"c","x":-0.6,"y":2e4},{"s":"c","x":0,"y":2e4},{"s":"c","x":0.6,"y":2e4},{"s":"c","x":1,"y":5e4},{"s":"c","x":1.3,"y":2e5},{"s":"c","x":1.56,"y":1e6},
{"s":"d","x":-1.56,"y":3e9},{"s":"d","x":-1.48,"y":1e10},{"s":"d","x":-1.4,"y":3e9},{"s":"d","x":-1.32,"y":2e10},{"s":"d","x":-1.24,"y":3e9},{"s":"d","x":-1.16,"y":3e10},{"s":"d","x":-1.08,"y":3e9},{"s":"d","x":-1,"y":5e10},{"s":"d","x":-0.92,"y":3e9},{"s":"d","x":-0.84,"y":1e11},{"s":"d","x":-0.76,"y":1e9},{"s":"d","x":-0.68,"y":3e13},{"s":"d","x":-0.6,"y":1e10},{"s":"d","x":-0.52,"y":3e13},{"s":"d","x":-0.44,"y":1e10},{"s":"d","x":-0.36,"y":3e13},{"s":"d","x":-0.28,"y":1e10},{"s":"d","x":-0.2,"y":2e13},{"s":"d","x":-0.12,"y":1e10},{"s":"d","x":-0.04,"y":1e13},{"s":"d","x":0.04,"y":1e13},{"s":"d","x":0.12,"y":1e10},{"s":"d","x":0.2,"y":2e13},{"s":"d","x":0.28,"y":1e10},{"s":"d","x":0.36,"y":3e13},{"s":"d","x":0.44,"y":1e10},{"s":"d","x":0.52,"y":3e13},{"s":"d","x":0.6,"y":1e10},{"s":"d","x":0.68,"y":3e13},{"s":"d","x":0.76,"y":1e9},{"s":"d","x":0.84,"y":1e11},{"s":"d","x":0.92,"y":3e9},{"s":"d","x":1,"y":5e10},{"s":"d","x":1.08,"y":3e9},{"s":"d","x":1.16,"y":3e10},{"s":"d","x":1.24,"y":3e9},{"s":"d","x":1.32,"y":2e10},{"s":"d","x":1.4,"y":3e9},{"s":"d","x":1.48,"y":1e10},{"s":"d","x":1.56,"y":3e9},
{"s":"e","x":-0.72,"y":1e10},{"s":"e","x":-0.64,"y":5e12},{"s":"e","x":-0.56,"y":1e10},{"s":"e","x":-0.48,"y":5e12},{"s":"e","x":-0.4,"y":1e10},{"s":"e","x":-0.32,"y":8e12},{"s":"e","x":-0.24,"y":1e10},{"s":"e","x":-0.16,"y":5e12},{"s":"e","x":-0.08,"y":1e11},{"s":"e","x":0,"y":1e12},{"s":"e","x":0.08,"y":1e11},{"s":"e","x":0.16,"y":5e12},{"s":"e","x":0.24,"y":1e10},{"s":"e","x":0.32,"y":8e12},{"s":"e","x":0.4,"y":1e10},{"s":"e","x":0.48,"y":5e12},{"s":"e","x":0.56,"y":1e10},{"s":"e","x":0.64,"y":5e12},{"s":"e","x":0.72,"y":1e10},
{"s":"f","x":-0.8,"y":1},{"s":"f","x":-0.75,"y":2e3},{"s":"f","x":-0.7,"y":1},{"s":"f","x":-0.65,"y":2e3},{"s":"f","x":-0.6,"y":1},{"s":"f","x":-0.55,"y":2e3},{"s":"f","x":-0.5,"y":1},{"s":"f","x":-0.45,"y":2e3},{"s":"f","x":-0.4,"y":1},{"s":"f","x":-0.35,"y":2e3},{"s":"f","x":-0.3,"y":1},{"s":"f","x":-0.25,"y":2e3},{"s":"f","x":-0.2,"y":1},{"s":"f","x":-0.15,"y":2e3},{"s":"f","x":-0.1,"y":1},{"s":"f","x":-0.05,"y":1e5},{"s":"f","x":0,"y":1},{"s":"f","x":0.05,"y":1e5},{"s":"f","x":0.1,"y":1},{"s":"f","x":0.15,"y":2e3},{"s":"f","x":0.2,"y":1},{"s":"f","x":0.25,"y":2e3},{"s":"f","x":0.3,"y":1},{"s":"f","x":0.35,"y":2e3},{"s":"f","x":0.4,"y":1},{"s":"f","x":0.45,"y":2e3},{"s":"f","x":0.5,"y":1},{"s":"f","x":0.55,"y":2e3},{"s":"f","x":0.6,"y":1},{"s":"f","x":0.65,"y":2e3},{"s":"f","x":0.7,"y":1},{"s":"f","x":0.75,"y":2e3},{"s":"f","x":0.8,"y":1},
{"s":"g","x":-1.55,"y":1},{"s":"g","x":-1.52,"y":5},{"s":"g","x":-1.48,"y":10},{"s":"g","x":-1.42,"y":20},{"s":"g","x":-1.35,"y":40},{"s":"g","x":-1.27,"y":100},{"s":"g","x":-1.2,"y":200},{"s":"g","x":-1.12,"y":600},{"s":"g","x":-0.9,"y":600},{"s":"g","x":-0.88,"y":1},
{"s":"k","x":0.85,"y":1},{"s":"k","x":0.87,"y":600},{"s":"k","x":1.1,"y":600},{"s":"k","x":1.18,"y":200},{"s":"k","x":1.25,"y":100},{"s":"k","x":1.33,"y":40},{"s":"k","x":1.4,"y":20},{"s":"k","x":1.47,"y":10},{"s":"k","x":1.52,"y":5},{"s":"k","x":1.55,"y":1},
{"s":"z","x":0.7,"y":1},{"s":"z","x":1.6,"y":1}
],
"bfb": [{"s":"h","x":-1.6,"y":1},{"s":"h","x":0.7,"y":1}]
},
"vconcat": [
{
"hconcat": [
{
"width": 230, "height": 131,
"data": {"name": "ta"},
"title": {"text": "(a) LOC/speedup for sin", "dx": -3, "offset": 33},
"encoding": {"x": {"field": "i", "type": "quantitative", "scale": {"domain": [0, 19], "nice": false}, "axis": {"title": "Minimum ULP (10^)", "values": [0,1,2,3,4,5,6,7,8,9,10,11,12,13,14,15,16,17,18,19], "labelExpr": "datum.value == 0 ? 'ref' : ((datum.value - 1) % 6 == 0 ? '' + (datum.value - 1) : '')", "labelOverlap": false, "labelFlush": false, "grid": false, "tickSize": 11, "labelPadding": 5, "titlePadding": 8}}},
"layer": [
{"data": {"values": [{"i": 10.45}, {"i": 13.45}]}, "mark": {"type": "rule", "color": "#c4c4c4", "strokeWidth": 4}, "encoding": {}},
{"mark": {"type": "line", "strokeWidth": 2.5, "point": {"filled": true, "size": 50}}, "encoding": {"y": {"field": "loc", "type": "quantitative", "scale": {"domain": [0, 80], "nice": false}, "axis": {"title": "LOC", "orient": "left", "values": [0,20,40,60,80], "tickSize": 10, "labelPadding": 5, "titlePadding": 11}}, "color": {"datum": "LOC", "type": "nominal", "scale": {"domain": ["LOC", "Speedup"], "range": ["#004586", "#0084d1"]}, "legend": {"title": null, "orient": "none", "legendX": -17, "legendY": 173, "direction": "horizontal", "symbolType": "M-1,0H1M0.1,0A0.1,0.1,0,1,1,-0.1,0A0.1,0.1,0,1,1,0.1,0M0.05,0A0.05,0.05,0,1,1,-0.05,0A0.05,0.05,0,1,1,0.05,0", "symbolSize": 2116, "symbolStrokeWidth": 3, "labelFontSize": 14.5, "labelFont": "Liberation Sans", "labelColor": "#222", "labelOffset": 6, "columnPadding": 48}}}},
{"mark": {"type": "line", "strokeWidth": 2.5, "point": {"filled": true, "size": 50}}, "encoding": {"y": {"field": "sp", "type": "quantitative", "scale": {"domain": [1, 5], "nice": false}, "axis": {"title": "Speedup (x100%)", "orient": "right", "values": [1,3,5], "format": "d", "grid": false, "tickSize": 9, "labelPadding": 7, "titlePadding": 10, "titleAngle": 270, "titleBaseline": "top"}}, "color": {"datum": "Speedup", "type": "nominal"}}}
],
"resolve": {"scale": {"y": "independent"}}
},
{
"width": 230, "height": 131,
"data": {"name": "tb"},
"title": {"text": "(b) LOC/speedup for log", "dx": -15, "offset": 33},
"encoding": {"x": {"field": "i", "type": "quantitative", "scale": {"domain": [0, 19], "nice": false}, "axis": {"title": "Minimum ULP (10^)", "values": [0,1,2,3,4,5,6,7,8,9,10,11,12,13,14,15,16,17,18,19], "labelExpr": "datum.value == 0 ? 'ref' : ((datum.value - 1) % 6 == 0 ? '' + (datum.value - 1) : '')", "labelOverlap": false, "labelFlush": false, "grid": false, "tickSize": 11, "labelPadding": 5, "titlePadding": 8}}},
"layer": [
{"data": {"values": [{"i": 10.45}, {"i": 13.45}]}, "mark": {"type": "rule", "color": "#c4c4c4", "strokeWidth": 4}, "encoding": {}},
{"mark": {"type": "line", "strokeWidth": 2.5, "point": {"filled": true, "size": 50}}, "encoding": {"y": {"field": "loc", "type": "quantitative", "scale": {"domain": [0, 80], "nice": false}, "axis": {"title": "LOC", "orient": "left", "values": [0,20,40,60,80], "tickSize": 10, "labelPadding": 5, "titlePadding": 11}}, "color": {"datum": "LOC", "type": "nominal", "scale": {"domain": ["LOC", "Speedup"], "range": ["#004586", "#0084d1"]}, "legend": {"title": null, "orient": "none", "legendX": -17, "legendY": 173, "direction": "horizontal", "symbolType": "M-1,0H1M0.1,0A0.1,0.1,0,1,1,-0.1,0A0.1,0.1,0,1,1,0.1,0M0.05,0A0.05,0.05,0,1,1,-0.05,0A0.05,0.05,0,1,1,0.05,0", "symbolSize": 2116, "symbolStrokeWidth": 3, "labelFontSize": 14.5, "labelFont": "Liberation Sans", "labelColor": "#222", "labelOffset": 6, "columnPadding": 48}}}},
{"mark": {"type": "line", "strokeWidth": 2.5, "point": {"filled": true, "size": 50}}, "encoding": {"y": {"field": "sp", "type": "quantitative", "scale": {"domain": [1, 3], "nice": false}, "axis": {"title": "Speedup (x100%)", "orient": "right", "values": [1,2,3], "format": "d", "grid": false, "tickSize": 9, "labelPadding": 7, "titlePadding": 10, "titleAngle": 270, "titleBaseline": "top"}}, "color": {"datum": "Speedup", "type": "nominal"}}}
],
"resolve": {"scale": {"y": "independent"}}
},
{
"width": 230, "height": 131,
"data": {"name": "tc"},
"title": {"text": "(c) LOC/speedup for tan", "dx": -20, "offset": 33},
"encoding": {"x": {"field": "i", "type": "quantitative", "scale": {"domain": [0, 19], "nice": false}, "axis": {"title": "Minimum ULP (10^)", "values": [0,1,2,3,4,5,6,7,8,9,10,11,12,13,14,15,16,17,18,19], "labelExpr": "datum.value == 0 ? 'ref' : ((datum.value - 1) % 6 == 0 ? '' + (datum.value - 1) : '')", "labelOverlap": false, "labelFlush": false, "grid": false, "tickSize": 11, "labelPadding": 5, "titlePadding": 8}}},
"layer": [
{"data": {"values": [{"i": 10.45}, {"i": 13.45}]}, "mark": {"type": "rule", "color": "#c4c4c4", "strokeWidth": 4}, "encoding": {}},
{"mark": {"type": "line", "strokeWidth": 2.5, "point": {"filled": true, "size": 50}}, "encoding": {"y": {"field": "loc", "type": "quantitative", "scale": {"domain": [0, 120], "nice": false}, "axis": {"title": "LOC", "orient": "left", "values": [0,30,60,90,120], "tickSize": 10, "labelPadding": 3, "titlePadding": 4}}, "color": {"datum": "LOC", "type": "nominal", "scale": {"domain": ["LOC", "Speedup"], "range": ["#004586", "#0084d1"]}, "legend": {"title": null, "orient": "none", "legendX": -17, "legendY": 173, "direction": "horizontal", "symbolType": "M-1,0H1M0.1,0A0.1,0.1,0,1,1,-0.1,0A0.1,0.1,0,1,1,0.1,0M0.05,0A0.05,0.05,0,1,1,-0.05,0A0.05,0.05,0,1,1,0.05,0", "symbolSize": 2116, "symbolStrokeWidth": 3, "labelFontSize": 14.5, "labelFont": "Liberation Sans", "labelColor": "#222", "labelOffset": 6, "columnPadding": 48}}}},
{"mark": {"type": "line", "strokeWidth": 2.5, "point": {"filled": true, "size": 50}}, "encoding": {"y": {"field": "sp", "type": "quantitative", "scale": {"domain": [1, 7], "nice": false}, "axis": {"title": "Speedup (x100%)", "orient": "right", "values": [1,4,7], "format": "d", "grid": false, "tickSize": 9, "labelPadding": 7, "titlePadding": 10, "titleAngle": 270, "titleBaseline": "top"}}, "color": {"datum": "Speedup", "type": "nominal"}}}
],
"resolve": {"scale": {"y": "independent"}}
}
],
"spacing": 164,
"bounds": "flush"
},
{
"hconcat": [
{"width": 1, "height": 1, "view": {"stroke": null}, "data": {"values": [{}]}, "mark": {"type": "point", "opacity": 0}},
{
"hconcat": [
{
"width": 250, "height": 133,
"title": {"text": "(d) ULP error for sin rewrites", "dx": -33, "offset": 24},
"encoding": {
"x": {"field": "x", "type": "quantitative", "scale": {"domain": [-3.14, 3.14], "nice": false, "zero": false}, "axis": {"title": "Input Argument", "values": [-3.14, -1.57, 0, 1.57, 3.14], "labelExpr": "'' + datum.value", "grid": false, "tickSize": 0, "labelPadding": 5, "titlePadding": 2, "labelFlush": false}},
"y": {"field": "y", "type": "quantitative", "scale": {"type": "log", "domain": [1, 1e20], "nice": false}, "axis": {"title": "ULP Error", "values": [1, 1e4, 1e8, 1e12, 1e16, 1e20], "labelExpr": "'1e' + round(log(datum.value) / LN10)", "tickSize": 8, "labelPadding": 7, "titlePadding": 12}},
"detail": {"field": "s", "type": "nominal"},
"order": {"value": null}
},
"layer": [
{"data": {"name": "bd"}, "mark": {"type": "line", "strokeWidth": 1.8, "color": "#004586"}},
{"data": {"name": "bdb"}, "mark": {"type": "line", "strokeWidth": 4.5, "color": "#004586"}}
]
},
{
"width": 250, "height": 133,
"title": {"text": "(e) ULP error for log rewrites", "dx": -33, "offset": 24},
"encoding": {
"x": {"field": "x", "type": "quantitative", "scale": {"domain": [0, 10], "nice": false}, "axis": {"title": "Input Argument", "values": [0, 2, 4, 6, 8, 10], "grid": false, "tickSize": 0, "labelPadding": 5, "titlePadding": 2, "labelFlush": false}},
"y": {"field": "y", "type": "quantitative", "scale": {"type": "log", "domain": [1, 1e20], "nice": false}, "axis": {"title": "ULP Error", "values": [1, 1e4, 1e8, 1e12, 1e16, 1e20], "labelExpr": "'1e' + round(log(datum.value) / LN10)", "tickSize": 8, "labelPadding": 7, "titlePadding": 12}},
"detail": {"field": "s", "type": "nominal"},
"order": {"value": null}
},
"layer": [
{"data": {"name": "be"}, "mark": {"type": "line", "strokeWidth": 1.8, "color": "#004586"}},
{"data": {"name": "beb"}, "mark": {"type": "line", "strokeWidth": 4.5, "color": "#004586"}}
]
},
{
"width": 250, "height": 133,
"title": {"text": "(f) ULP error for tan rewrites", "dx": -34, "offset": 24},
"encoding": {
"x": {"field": "x", "type": "quantitative", "scale": {"domain": [-1.6, 1.6], "nice": false, "zero": false}, "axis": {"title": "Input Argument", "values": [-1.6, -0.8, 0, 0.8, 1.6], "labelExpr": "'' + datum.value", "grid": false, "tickSize": 0, "labelPadding": 5, "titlePadding": 2, "labelFlush": false}},
"y": {"field": "y", "type": "quantitative", "scale": {"type": "log", "domain": [1, 1e20], "nice": false}, "axis": {"title": "ULP Error", "values": [1, 1e4, 1e8, 1e12, 1e16, 1e20], "labelExpr": "'1E+' + round(log(datum.value) / LN10)", "tickSize": 5, "labelPadding": 1, "titlePadding": 3}},
"detail": {"field": "s", "type": "nominal"},
"order": {"value": null}
},
"layer": [
{"data": {"name": "bf"}, "mark": {"type": "line", "strokeWidth": 1.8, "color": "#004586"}},
{"data": {"name": "bfb"}, "mark": {"type": "line", "strokeWidth": 4.5, "color": "#004586"}}
]
}
],
"spacing": 123,
"bounds": "flush"
}
],
"spacing": 18,
"bounds": "flush"
}
],
"spacing": 280,
"bounds": "flush",
"config": {
"font": "Liberation Sans",
"view": {"stroke": "#b3b3b3"},
"axis": {"labelFont": "Liberation Sans", "titleFont": "Liberation Sans", "labelFontSize": 14, "titleFontSize": 14.5, "titleFontWeight": "normal", "labelColor": "#222", "titleColor": "#222", "gridColor": "#b3b3b3", "domainColor": "#b3b3b3", "tickColor": "#b3b3b3"},
"title": {"font": "DejaVu Serif", "fontSize": 20, "fontWeight": "normal", "color": "#111", "orient": "bottom", "anchor": "middle", "frame": "group"}
}
}
